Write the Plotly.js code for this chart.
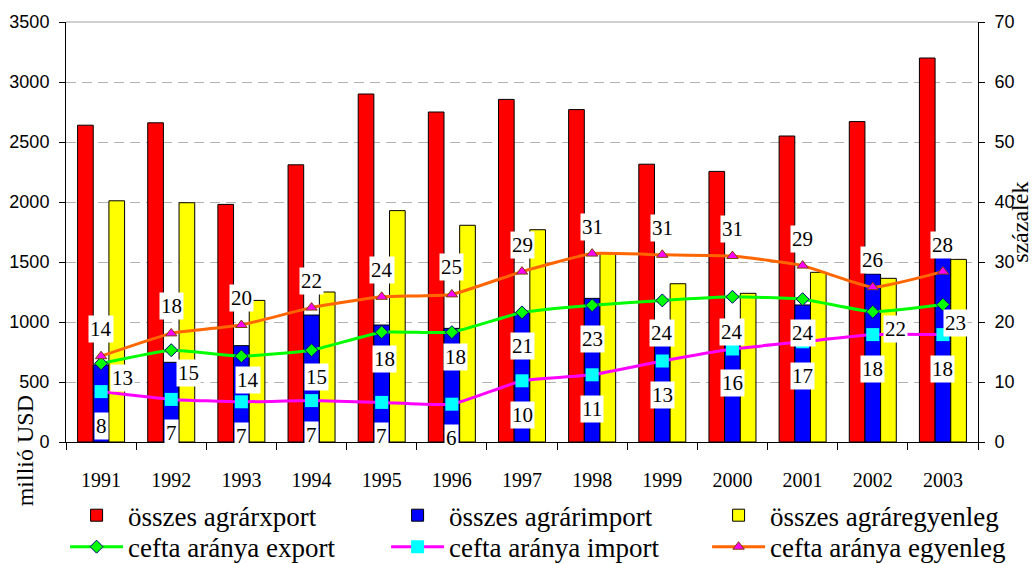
<!DOCTYPE html>
<html><head><meta charset="utf-8">
<script src="https://cdn.plot.ly/plotly-3.0.1.min.js"></script>
<style>html,body{margin:0;padding:0;background:#fff;} #chart{width:1036px;height:564px;}</style>
</head><body><div id="chart"></div>
<script>
const years = ['1991','1992','1993','1994','1995','1996','1997','1998','1999','2000','2001','2002','2003'];
const exportTotal  = [2640,2660,1980,2310,2900,2750,2855,2770,2315,2255,2550,2670,3200];
const importTotal  = [642,664,803,1058,975,947,1075,1197,990,1016,1142,1400,1544];
const balanceTotal = [2010,1994,1180,1250,1928,1806,1769,1572,1319,1239,1414,1364,1522];
const ceftaExport  = [13.1,15.3,14.3,15.3,18.3,18.3,21.6,22.8,23.6,24.2,23.8,21.7,22.9];
const ceftaImport  = [8.4,7.1,6.7,6.9,6.6,6.3,10.2,11.2,13.5,15.5,16.7,17.9,17.9];
const ceftaBalance = [14.3,18.1,19.5,22.4,24.2,24.6,28.4,31.4,31.2,31.0,29.4,25.8,28.4];
const labelExport  = [13,15,14,15,18,18,21,23,24,24,24,22,23];
const labelImport  = [8,7,7,7,7,6,10,11,13,16,17,18,18];
const labelBalance = [14,18,20,22,24,25,29,31,31,31,29,26,28];

// label placement styling (pixel shifts relative to the point)
const exportLabelShift = [[21,-15],[17,-23],[7,-24],[5,-27],[3,-27],[4,-25],[0,-34],[0,-34],[0,-33],[0,-35],[0,-34],[23,-17],[13,-18]];
const importLabelShift = [0,-34];
const balanceLabelShift = [0,27];

const serif = 'Liberation Serif, Times New Roman, serif';
const sans = 'Liberation Sans, Arial, sans-serif';

const barLine = {color:'#000', width:1};
const traces = [
  {type:'bar', name:'összes agrárxport', x:years, y:exportTotal, marker:{color:'#FF0000', line:barLine}, legend:'legend'},
  {type:'bar', name:'összes agrárimport', x:years, y:importTotal, marker:{color:'#0000FF', line:barLine}, legend:'legend'},
  {type:'bar', name:'összes agráregyenleg', x:years, y:balanceTotal, marker:{color:'#FFFF00', line:barLine}, legend:'legend'},
  {type:'scatter', mode:'lines+markers', name:'cefta aránya export', x:years, y:ceftaExport, yaxis:'y2',
   line:{color:'#00FF00', width:3, shape:'spline', smoothing:0.4},
   marker:{symbol:'diamond', size:10, color:'#00FF00', line:{color:'#000080', width:1}}, legend:'legend2'},
  {type:'scatter', mode:'lines+markers', name:'cefta aránya import', x:years, y:ceftaImport, yaxis:'y2',
   line:{color:'#FF00FF', width:3, shape:'spline', smoothing:0.4},
   marker:{symbol:'square', size:13, color:'#00FFFF', line:{color:'#00FFFF', width:0}}, legend:'legend2'},
  {type:'scatter', mode:'lines+markers', name:'cefta aránya egyenleg', x:years, y:ceftaBalance, yaxis:'y2',
   line:{color:'#FF6600', width:3, shape:'spline', smoothing:0.4},
   marker:{symbol:'triangle-up', size:10, color:'#FF00FF', line:{color:'#804000', width:1}}, legend:'legend2'}
];

const annotations = [];
function addLabel(idx, y, txt, dx, dy) {
  annotations.push({x:idx, y:y, xref:'x', yref:'y2', text:String(txt), showarrow:false,
    xanchor:'center', yanchor:'middle',
    xshift:dx, yshift:dy, bgcolor:'#FFFFFF', borderpad:1,
    font:{family:serif, size:21, color:'#000'}});
}
years.forEach((yr, i) => {
  addLabel(i, ceftaBalance[i], labelBalance[i], balanceLabelShift[0], balanceLabelShift[1]);
  addLabel(i, ceftaExport[i], labelExport[i], exportLabelShift[i][0], exportLabelShift[i][1]);
  addLabel(i, ceftaImport[i], labelImport[i], importLabelShift[0], importLabelShift[1]);
});
annotations.push({text:'millió USD', xref:'paper', yref:'paper', x:-0.045, y:-0.02, textangle:-90,
  xanchor:'center', yanchor:'middle',
  showarrow:false, font:{family:serif, size:24, color:'#000'}});
annotations.push({text:'százalék', xref:'paper', yref:'paper', x:1.046, y:0.524, textangle:-90,
  xanchor:'center', yanchor:'middle',
  showarrow:false, font:{family:serif, size:24, color:'#000'}});

const legendBase = {orientation:'h', x:-0.001, xanchor:'left', yanchor:'top', itemwidth:53,
  entrywidth:253, entrywidthmode:'pixels', bgcolor:'rgba(0,0,0,0)',
  font:{family:serif, size:27, color:'#000'}, traceorder:'normal'};

const layout = {
  width:1036, height:564,
  margin:{l:66, r:58, t:22, b:122, autoexpand:false},
  paper_bgcolor:'#fff', plot_bgcolor:'#fff',
  barmode:'group', bargap:0.33, bargroupgap:0,
  showlegend:true,
  legend:Object.assign({}, legendBase, {y:-0.117}),
  legend2:Object.assign({}, legendBase, {y:-0.192}),
  xaxis:{type:'category', range:[-0.5, years.length - 0.5], autorange:false,
    tickson:'boundaries', ticks:'outside', ticklen:7, tickcolor:'#000',
    showline:true, linecolor:'#000', linewidth:1, showgrid:false, ticklabelstandoff:20, tickangle:0,
    tickfont:{family:serif, size:20, color:'#000'}},
  yaxis:{range:[0,3500], autorange:false, dtick:500, ticks:'outside', ticklen:6, tickcolor:'#000',
    showline:true, linecolor:'#000', linewidth:1, showgrid:true, gridcolor:'#b4b4b4', griddash:'10px,6px',
    zeroline:false, ticklabelstandoff:6, tickfont:{family:sans, size:18, color:'#000'}},
  yaxis2:{range:[0,70], autorange:false, dtick:10, overlaying:'y', side:'right', ticks:'outside', ticklen:6, tickcolor:'#000',
    showline:true, linecolor:'#000', linewidth:1, showgrid:false, zeroline:false, ticklabelstandoff:6,
    tickfont:{family:sans, size:18, color:'#000'}},
  shapes:[{type:'line', xref:'paper', yref:'paper', x0:0, x1:1, y0:1, y1:1, line:{color:'#a0a0a0', width:1}}],
  annotations:annotations
};

Plotly.newPlot('chart', traces, layout, {displayModeBar:false, staticPlot:true});
</script>
</body></html>
